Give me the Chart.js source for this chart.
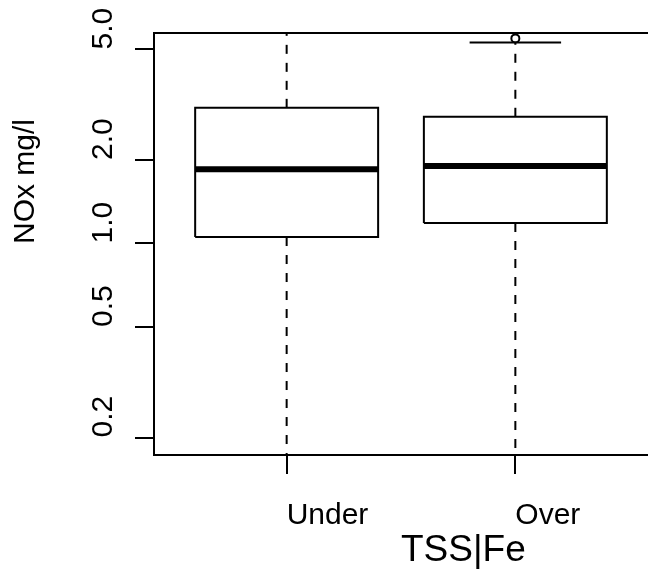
<!DOCTYPE html>
<html>
<head>
<meta charset="utf-8">
<script src="https://cdn.jsdelivr.net/npm/chart.js@4.4.0/dist/chart.umd.min.js"></script>
<style>
  body { margin: 0; background: #fff; }
</style>
</head>
<body>
<canvas id="boxChart" width="648" height="570"></canvas>
<script>
// NOx boxplot, log y axis

var groups = ["Under", "Over"];
var q1 = [1.055, 1.185];
var medians = [1.85, 1.90];
var q3 = [3.08, 2.86];
var whiskerLow = [0.15, 0.12];
var whiskerHigh = [6.0, 5.30];
var outliers = [[], [5.48]];

var yTicks = [0.2, 0.5, 1, 2, 5];
var yTickLabels = ["0.2", "0.5", "1.0", "2.0", "5.0"];
var xTitle = "TSS|Fe";
var yTitle = "NOx mg/l";

var boxHalf = 0.4;
var capHalf = 0.2;

var datasets = [];
groups.forEach(function (g, i) {
  var x = i + 1;
  // box
  datasets.push({
    type: 'line',
    data: [
      { x: x - boxHalf, y: q1[i] },
      { x: x + boxHalf, y: q1[i] },
      { x: x + boxHalf, y: q3[i] },
      { x: x - boxHalf, y: q3[i] },
      { x: x - boxHalf, y: q1[i] }
    ],
    borderColor: '#000',
    borderWidth: 2,
    pointRadius: 0,
    fill: false
  });
  // median
  datasets.push({
    type: 'line',
    data: [{ x: x - boxHalf, y: medians[i] }, { x: x + boxHalf, y: medians[i] }],
    borderColor: '#000',
    borderWidth: 6,
    borderCapStyle: 'butt',
    pointRadius: 0
  });
  // whiskers
  datasets.push({
    type: 'line',
    data: [{ x: x, y: q3[i] }, { x: x, y: whiskerHigh[i] }],
    borderColor: '#000',
    borderWidth: 2,
    borderDash: [9, 9],
    pointRadius: 0
  });
  datasets.push({
    type: 'line',
    data: [{ x: x, y: q1[i] }, { x: x, y: whiskerLow[i] }],
    borderColor: '#000',
    borderWidth: 2,
    borderDash: [9, 9],
    pointRadius: 0
  });
  // caps
  datasets.push({
    type: 'line',
    data: [{ x: x - capHalf, y: whiskerHigh[i] }, { x: x + capHalf, y: whiskerHigh[i] }],
    borderColor: '#000',
    borderWidth: 2,
    pointRadius: 0
  });
  datasets.push({
    type: 'line',
    data: [{ x: x - capHalf, y: whiskerLow[i] }, { x: x + capHalf, y: whiskerLow[i] }],
    borderColor: '#000',
    borderWidth: 2,
    pointRadius: 0
  });
  // outliers
  if (outliers[i].length) {
    datasets.push({
      type: 'scatter',
      data: outliers[i].map(function (v) { return { x: x, y: v }; }),
      borderColor: '#000',
      backgroundColor: '#fff',
      borderWidth: 2,
      pointRadius: 4
    });
  }
});

var textPlugin = {
  id: 'rtext',
  afterDraw: function (chart) {
    var ctx = chart.ctx;
    var area = chart.chartArea;
    var ys = chart.scales.y;
    var xs = chart.scales.x;
    ctx.save();
    ctx.fillStyle = '#000';
    ctx.strokeStyle = '#000';

    // top frame line
    ctx.lineWidth = 2;
    ctx.beginPath();
    ctx.moveTo(area.left - 1, area.top);
    ctx.lineTo(area.right, area.top);
    ctx.stroke();

    ctx.font = '30px "Liberation Sans", Arial, sans-serif';
    ctx.textAlign = 'left';
    ctx.textBaseline = 'alphabetic';

    yTicks.forEach(function (v, i) {
      var py = ys.getPixelForValue(v);
      ctx.save();
      ctx.translate(112, py);
      ctx.rotate(-Math.PI / 2);
      ctx.fillText(yTickLabels[i], 0, 0);
      ctx.restore();
    });

    ctx.save();
    ctx.translate(34, (area.top + area.bottom) / 2);
    ctx.rotate(-Math.PI / 2);
    ctx.fillText(yTitle, 0, 0);
    ctx.restore();

    groups.forEach(function (g, i) {
      ctx.fillText(g, xs.getPixelForValue(i + 1), 524);
    });

    ctx.font = '37px "Liberation Sans", Arial, sans-serif';
    ctx.fillText(xTitle, (area.left + area.right) / 2, 561);
    ctx.restore();
  }
};

var ctxB = document.getElementById("boxChart").getContext('2d');
var boxChart = new Chart(ctxB, {
  type: 'line',
  data: { datasets: datasets },
  plugins: [textPlugin],
  options: {
    responsive: false,
    animation: false,
    layout: { autoPadding: false, padding: { top: 33, right: 0, left: 0, bottom: 0 } },
    plugins: {
      legend: { display: false },
      tooltip: { enabled: false }
    },
    scales: {
      x: {
        type: 'linear',
        min: 0.42,
        max: 2.58,
        afterBuildTicks: function (s) {
          s.ticks = groups.map(function (g, i) { return { value: i + 1 }; });
        },
        afterFit: function (s) { s.height = 115; },
        ticks: { display: false },
        grid: {
          drawOnChartArea: false,
          drawTicks: true,
          tickLength: 19,
          lineWidth: 2,
          color: '#000'
        },
        border: { display: true, color: '#000', width: 2 }
      },
      y: {
        type: 'logarithmic',
        min: 0.173,
        max: 5.73,
        afterBuildTicks: function (s) {
          s.ticks = yTicks.map(function (v) { return { value: v }; });
        },
        afterFit: function (s) { s.width = 154; },
        ticks: { display: false },
        grid: {
          drawOnChartArea: false,
          drawTicks: true,
          tickLength: 19,
          lineWidth: 2,
          color: '#000'
        },
        border: { display: true, color: '#000', width: 2 }
      }
    }
  }
});
</script>
</body>
</html>
